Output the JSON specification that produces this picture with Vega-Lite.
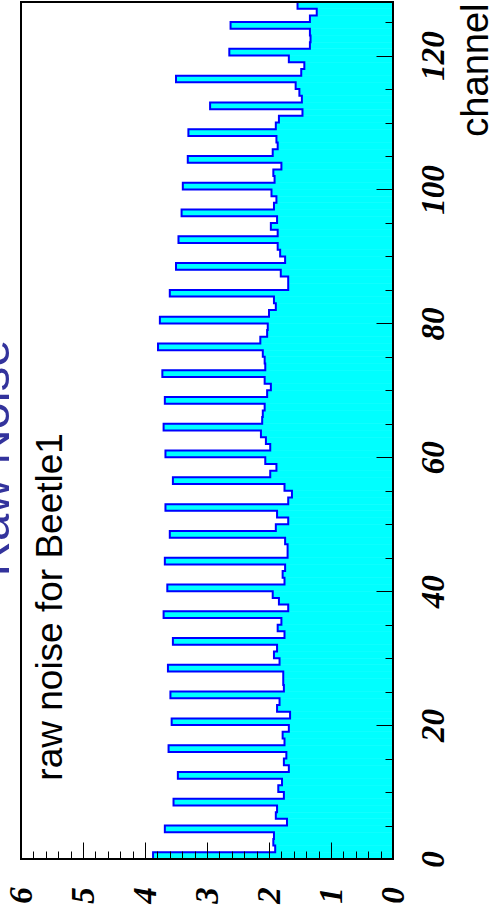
{
  "$schema": "https://vega.github.io/schema/vega-lite/v6.json",
  "width": 372,
  "height": 857,
  "autosize": {"type": "none"},
  "padding": {"left": 21, "top": 2, "right": 96, "bottom": 65},
  "background": "white",
  "config": {"view": {"stroke": null}},
  "resolve": {"axis": {"x": "independent", "y": "independent"}},
  "layer": [
    {
      "data": {"name": "histogram"},
      "mark": {"type": "rect", "color": "#00ffff", "stroke": "#00ffff", "strokeWidth": 0.6},
      "encoding": {
        "x": {
          "field": "noise",
          "type": "quantitative",
          "scale": {"domain": [0, 6], "reverse": true, "nice": false, "zero": false},
          "axis": {
            "orient": "bottom",
            "zindex": 2,
            "values": [0, 1, 2, 3, 4, 5, 6],
            "domain": false,
            "grid": false,
            "tickColor": "black",
            "tickWidth": 1,
            "tickSize": -17,
            "labelAngle": 270,
            "labelAlign": "center",
            "labelBaseline": "middle",
            "labelPadding": 53,
            "labelFont": "Liberation Serif",
            "labelFontSize": 33,
            "labelFontStyle": "italic",
            "labelFontWeight": "bold",
            "labelColor": "black",
            "labelFlush": false,
            "labelOverlap": false,
            "title": null
          }
        },
        "x2": {"datum": 0},
        "y": {
          "field": "lo",
          "type": "quantitative",
          "scale": {"domain": [0, 128], "nice": false, "zero": false},
          "axis": {
            "orient": "right",
            "zindex": 2,
            "values": [0, 20, 40, 60, 80, 100, 120],
            "domain": false,
            "grid": false,
            "tickColor": "black",
            "tickWidth": 1,
            "tickSize": -17,
            "labelAngle": 270,
            "labelAlign": "center",
            "labelBaseline": "middle",
            "labelPadding": 57,
            "labelFont": "Liberation Serif",
            "labelFontSize": 33,
            "labelFontStyle": "italic",
            "labelFontWeight": "bold",
            "labelColor": "black",
            "labelFlush": false,
            "labelOverlap": false,
            "title": "channel",
            "titleFont": "Liberation Sans",
            "titleFontSize": 38,
            "titleFontWeight": "normal",
            "titleColor": "black",
            "titleAngle": 270,
            "titleAlign": "right",
            "titleBaseline": "alphabetic",
            "titleX": 94,
            "titleY": 1
          }
        },
        "y2": {"field": "hi"}
      }
    },
    {
      "data": {"name": "histogram"},
      "transform": [{"fold": ["lo", "hi"], "as": ["side", "edge"]}],
      "mark": {"type": "line", "color": "#0000ff", "strokeWidth": 2, "strokeJoin": "miter", "strokeCap": "butt"},
      "encoding": {
        "x": {"field": "noise", "type": "quantitative", "axis": null},
        "y": {"field": "edge", "type": "quantitative", "axis": null},
        "order": {"value": null}
      }
    },
    {
      "data": {"values": [{"label": "raw noise for Beetle1"}]},
      "mark": {"type": "text", "angle": 270, "align": "left", "baseline": "alphabetic", "font": "Liberation Sans", "fontSize": 37, "color": "black"},
      "encoding": {
        "x": {"datum": 5.34, "type": "quantitative", "axis": null},
        "y": {"datum": 11.7, "type": "quantitative", "axis": null},
        "text": {"field": "label"}
      }
    },
    {
      "data": {"values": [{"label": "Raw Noise"}]},
      "mark": {"type": "text", "angle": 270, "align": "center", "baseline": "alphabetic", "font": "Liberation Sans", "fontSize": 49, "color": "#33339c"},
      "encoding": {
        "x": {"datum": 6.19, "type": "quantitative", "axis": null},
        "y": {"datum": 59.9, "type": "quantitative", "axis": null},
        "text": {"field": "label"}
      }
    },
    {
      "data": {"values": [{}]},
      "mark": {"type": "rect", "fillOpacity": 0, "stroke": "black", "strokeWidth": 2},
      "encoding": {
        "x": {
          "datum": 0,
          "type": "quantitative",
          "axis": {
            "orient": "bottom",
            "zindex": 2,
            "values": [0.2, 0.4, 0.6, 0.8, 1.2, 1.4, 1.6, 1.8, 2.2, 2.4, 2.6, 2.8, 3.2, 3.4, 3.6, 3.8, 4.2, 4.4, 4.6, 4.8, 5.2, 5.4, 5.6, 5.8],
            "domain": false,
            "grid": false,
            "labels": false,
            "tickColor": "black",
            "tickWidth": 1,
            "tickSize": -8,
            "title": null
          }
        },
        "x2": {"datum": 6},
        "y": {
          "datum": 0,
          "type": "quantitative",
          "axis": {
            "orient": "right",
            "zindex": 2,
            "values": [5, 10, 15, 25, 30, 35, 45, 50, 55, 65, 70, 75, 85, 90, 95, 105, 110, 115, 125],
            "domain": false,
            "grid": false,
            "labels": false,
            "tickColor": "black",
            "tickWidth": 1,
            "tickSize": -8,
            "title": null
          }
        },
        "y2": {"datum": 128}
      }
    }
  ],
  "datasets": {
    "histogram": [
      {"lo": 0, "hi": 1, "noise": 3.87},
      {"lo": 1, "hi": 2, "noise": 1.90},
      {"lo": 2, "hi": 3, "noise": 1.93},
      {"lo": 3, "hi": 4, "noise": 1.92},
      {"lo": 4, "hi": 5, "noise": 3.68},
      {"lo": 5, "hi": 6, "noise": 1.71},
      {"lo": 6, "hi": 7, "noise": 1.89},
      {"lo": 7, "hi": 8, "noise": 1.87},
      {"lo": 8, "hi": 9, "noise": 3.54},
      {"lo": 9, "hi": 10, "noise": 1.76},
      {"lo": 10, "hi": 11, "noise": 1.85},
      {"lo": 11, "hi": 12, "noise": 1.79},
      {"lo": 12, "hi": 13, "noise": 3.47},
      {"lo": 13, "hi": 14, "noise": 1.68},
      {"lo": 14, "hi": 15, "noise": 1.76},
      {"lo": 15, "hi": 16, "noise": 1.72},
      {"lo": 16, "hi": 17, "noise": 3.62},
      {"lo": 17, "hi": 18, "noise": 1.75},
      {"lo": 18, "hi": 19, "noise": 1.78},
      {"lo": 19, "hi": 20, "noise": 1.68},
      {"lo": 20, "hi": 21, "noise": 3.57},
      {"lo": 21, "hi": 22, "noise": 1.66},
      {"lo": 22, "hi": 23, "noise": 1.87},
      {"lo": 23, "hi": 24, "noise": 1.83},
      {"lo": 24, "hi": 25, "noise": 3.59},
      {"lo": 25, "hi": 26, "noise": 1.76},
      {"lo": 26, "hi": 27, "noise": 1.77},
      {"lo": 27, "hi": 28, "noise": 1.77},
      {"lo": 28, "hi": 29, "noise": 3.63},
      {"lo": 29, "hi": 30, "noise": 1.83},
      {"lo": 30, "hi": 31, "noise": 1.92},
      {"lo": 31, "hi": 32, "noise": 1.87},
      {"lo": 32, "hi": 33, "noise": 3.55},
      {"lo": 33, "hi": 34, "noise": 1.75},
      {"lo": 34, "hi": 35, "noise": 1.86},
      {"lo": 35, "hi": 36, "noise": 1.80},
      {"lo": 36, "hi": 37, "noise": 3.70},
      {"lo": 37, "hi": 38, "noise": 1.69},
      {"lo": 38, "hi": 39, "noise": 1.84},
      {"lo": 39, "hi": 40, "noise": 1.94},
      {"lo": 40, "hi": 41, "noise": 3.64},
      {"lo": 41, "hi": 42, "noise": 1.75},
      {"lo": 42, "hi": 43, "noise": 1.78},
      {"lo": 43, "hi": 44, "noise": 1.74},
      {"lo": 44, "hi": 45, "noise": 3.68},
      {"lo": 45, "hi": 46, "noise": 1.70},
      {"lo": 46, "hi": 47, "noise": 1.70},
      {"lo": 47, "hi": 48, "noise": 1.74},
      {"lo": 48, "hi": 49, "noise": 3.60},
      {"lo": 49, "hi": 50, "noise": 1.89},
      {"lo": 50, "hi": 51, "noise": 1.69},
      {"lo": 51, "hi": 52, "noise": 1.87},
      {"lo": 52, "hi": 53, "noise": 3.67},
      {"lo": 53, "hi": 54, "noise": 1.69},
      {"lo": 54, "hi": 55, "noise": 1.63},
      {"lo": 55, "hi": 56, "noise": 1.75},
      {"lo": 56, "hi": 57, "noise": 3.55},
      {"lo": 57, "hi": 58, "noise": 1.98},
      {"lo": 58, "hi": 59, "noise": 1.88},
      {"lo": 59, "hi": 60, "noise": 2.06},
      {"lo": 60, "hi": 61, "noise": 3.67},
      {"lo": 61, "hi": 62, "noise": 1.98},
      {"lo": 62, "hi": 63, "noise": 2.05},
      {"lo": 63, "hi": 64, "noise": 2.13},
      {"lo": 64, "hi": 65, "noise": 3.70},
      {"lo": 65, "hi": 66, "noise": 2.11},
      {"lo": 66, "hi": 67, "noise": 2.10},
      {"lo": 67, "hi": 68, "noise": 2.07},
      {"lo": 68, "hi": 69, "noise": 3.68},
      {"lo": 69, "hi": 70, "noise": 2.03},
      {"lo": 70, "hi": 71, "noise": 1.97},
      {"lo": 71, "hi": 72, "noise": 2.07},
      {"lo": 72, "hi": 73, "noise": 3.72},
      {"lo": 73, "hi": 74, "noise": 2.06},
      {"lo": 74, "hi": 75, "noise": 2.07},
      {"lo": 75, "hi": 76, "noise": 2.10},
      {"lo": 76, "hi": 77, "noise": 3.79},
      {"lo": 77, "hi": 78, "noise": 2.14},
      {"lo": 78, "hi": 79, "noise": 2.03},
      {"lo": 79, "hi": 80, "noise": 2.02},
      {"lo": 80, "hi": 81, "noise": 3.76},
      {"lo": 81, "hi": 82, "noise": 2.00},
      {"lo": 82, "hi": 83, "noise": 1.89},
      {"lo": 83, "hi": 84, "noise": 1.92},
      {"lo": 84, "hi": 85, "noise": 3.60},
      {"lo": 85, "hi": 86, "noise": 1.69},
      {"lo": 86, "hi": 87, "noise": 1.69},
      {"lo": 87, "hi": 88, "noise": 1.81},
      {"lo": 88, "hi": 89, "noise": 3.50},
      {"lo": 89, "hi": 90, "noise": 1.74},
      {"lo": 90, "hi": 91, "noise": 1.82},
      {"lo": 91, "hi": 92, "noise": 1.86},
      {"lo": 92, "hi": 93, "noise": 3.46},
      {"lo": 93, "hi": 94, "noise": 1.86},
      {"lo": 94, "hi": 95, "noise": 1.97},
      {"lo": 95, "hi": 96, "noise": 1.87},
      {"lo": 96, "hi": 97, "noise": 3.41},
      {"lo": 97, "hi": 98, "noise": 1.92},
      {"lo": 98, "hi": 99, "noise": 1.88},
      {"lo": 99, "hi": 100, "noise": 1.96},
      {"lo": 100, "hi": 101, "noise": 3.39},
      {"lo": 101, "hi": 102, "noise": 1.91},
      {"lo": 102, "hi": 103, "noise": 1.93},
      {"lo": 103, "hi": 104, "noise": 1.80},
      {"lo": 104, "hi": 105, "noise": 3.31},
      {"lo": 105, "hi": 106, "noise": 1.94},
      {"lo": 106, "hi": 107, "noise": 1.86},
      {"lo": 107, "hi": 108, "noise": 1.88},
      {"lo": 108, "hi": 109, "noise": 3.30},
      {"lo": 109, "hi": 110, "noise": 1.89},
      {"lo": 110, "hi": 111, "noise": 1.84},
      {"lo": 111, "hi": 112, "noise": 1.46},
      {"lo": 112, "hi": 113, "noise": 2.95},
      {"lo": 113, "hi": 114, "noise": 1.47},
      {"lo": 114, "hi": 115, "noise": 1.51},
      {"lo": 115, "hi": 116, "noise": 1.57},
      {"lo": 116, "hi": 117, "noise": 3.50},
      {"lo": 117, "hi": 118, "noise": 1.48},
      {"lo": 118, "hi": 119, "noise": 1.43},
      {"lo": 119, "hi": 120, "noise": 1.68},
      {"lo": 120, "hi": 121, "noise": 2.64},
      {"lo": 121, "hi": 122, "noise": 1.34},
      {"lo": 122, "hi": 123, "noise": 1.33},
      {"lo": 123, "hi": 124, "noise": 1.34},
      {"lo": 124, "hi": 125, "noise": 2.62},
      {"lo": 125, "hi": 126, "noise": 1.34},
      {"lo": 126, "hi": 127, "noise": 1.23},
      {"lo": 127, "hi": 128, "noise": 1.54}
    ]
  }
}
